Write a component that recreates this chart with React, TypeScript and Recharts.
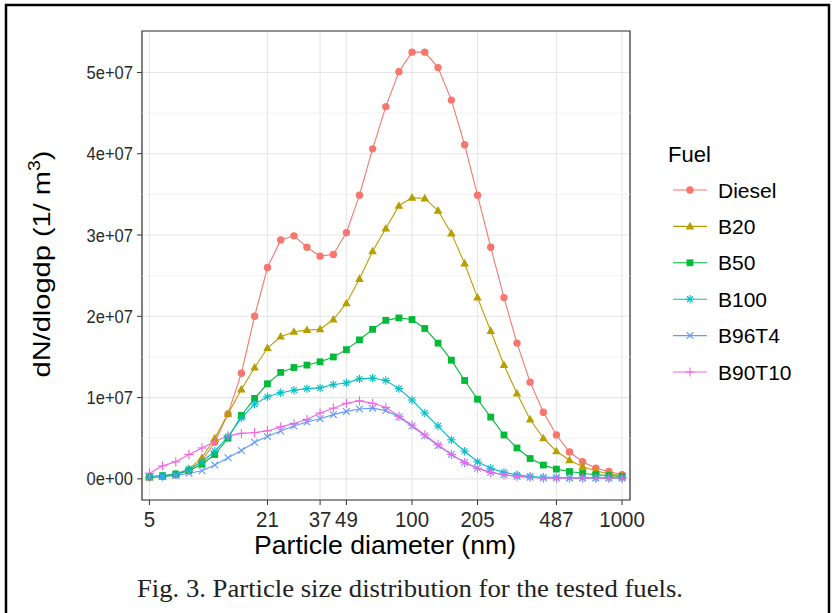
// @ts-nocheck
import React from 'react';
import { LineChart, Line, XAxis, YAxis, CartesianGrid, ReferenceLine, ReferenceArea } from 'recharts';

// particle diameters (nm), one per measured bin
const diameters = [5.62, 6.49, 7.5, 8.66, 10, 11.5, 13.3, 15.4, 17.8, 20.5, 23.7, 27.4, 31.6, 36.5, 42.2, 48.7, 56.2, 64.9, 75, 86.6, 100, 115, 133, 154, 178, 205, 237, 274, 316, 365, 422, 487, 562, 649, 750, 866, 1000];

// dN/dlogdp in units of 1e7 (1/m3)
const diesel = [0.02, 0.03, 0.05, 0.1, 0.22, 0.45, 0.8, 1.3, 2.0, 2.6, 2.94, 2.99, 2.85, 2.74, 2.76, 3.03, 3.49, 4.06, 4.58, 5.01, 5.25, 5.25, 5.06, 4.66, 4.11, 3.49, 2.85, 2.23, 1.67, 1.19, 0.82, 0.54, 0.33, 0.21, 0.13, 0.09, 0.05];
const b20 = [0.02, 0.03, 0.06, 0.12, 0.26, 0.5, 0.8, 1.1, 1.37, 1.61, 1.75, 1.81, 1.83, 1.84, 1.96, 2.16, 2.46, 2.8, 3.08, 3.36, 3.46, 3.45, 3.3, 3.02, 2.65, 2.23, 1.82, 1.4, 1.05, 0.73, 0.5, 0.34, 0.23, 0.15, 0.1, 0.06, 0.04];
const b50 = [0.03, 0.04, 0.06, 0.1, 0.18, 0.3, 0.5, 0.78, 0.99, 1.17, 1.31, 1.37, 1.4, 1.44, 1.5, 1.59, 1.71, 1.84, 1.95, 1.98, 1.96, 1.85, 1.67, 1.46, 1.21, 0.98, 0.76, 0.54, 0.38, 0.25, 0.17, 0.12, 0.09, 0.07, 0.05, 0.04, 0.03];
const b100 = [0.02, 0.03, 0.05, 0.12, 0.21, 0.34, 0.52, 0.75, 0.92, 1.01, 1.06, 1.09, 1.11, 1.12, 1.16, 1.18, 1.23, 1.24, 1.21, 1.11, 0.97, 0.81, 0.65, 0.48, 0.34, 0.21, 0.13, 0.08, 0.05, 0.03, 0.02, 0.02, 0.01, 0.01, 0.01, 0.01, 0.01];
const b96t4 = [0.02, 0.03, 0.04, 0.07, 0.1, 0.17, 0.26, 0.35, 0.45, 0.52, 0.59, 0.65, 0.7, 0.74, 0.79, 0.83, 0.86, 0.87, 0.84, 0.76, 0.65, 0.53, 0.41, 0.3, 0.2, 0.13, 0.08, 0.05, 0.03, 0.02, 0.01, 0.01, 0.01, 0.01, 0.01, 0.01, 0.01];
const b90t10 = [0.07, 0.16, 0.21, 0.3, 0.38, 0.46, 0.53, 0.56, 0.57, 0.59, 0.64, 0.68, 0.73, 0.81, 0.87, 0.93, 0.96, 0.93, 0.88, 0.77, 0.66, 0.54, 0.42, 0.3, 0.2, 0.13, 0.08, 0.05, 0.03, 0.02, 0.01, 0.01, 0.01, 0.01, 0.01, 0.01, 0.01];

const xTicks = [5.62, 20.5, 36.5, 48.7, 100, 205, 487, 1000];
const xTickLabels = ['5', '21', '37', '49', '100', '205', '487', '1000'];
const yTicks = [0, 1e7, 2e7, 3e7, 4e7, 5e7];
const yMinor = [0.5e7, 1.5e7, 2.5e7, 3.5e7, 4.5e7];

const X_DOMAIN = [5.18, 1091];
const Y_DOMAIN = [-2.6e6, 5.51e7];

const series = [
  { key: 'Diesel', values: diesel, color: '#F8766D', shape: 'circle' },
  { key: 'B20', values: b20, color: '#B79F00', shape: 'triangle' },
  { key: 'B50', values: b50, color: '#00BA38', shape: 'square' },
  { key: 'B100', values: b100, color: '#00BFC4', shape: 'asterisk' },
  { key: 'B96T4', values: b96t4, color: '#619CFF', shape: 'cross' },
  { key: 'B90T10', values: b90t10, color: '#F564E3', shape: 'plus' },
];

const data = diameters.map((d, i) => {
  const row: any = { d };
  series.forEach((s) => { row[s.key] = s.values[i] * 1e7; });
  return row;
});

function Marker({ cx, cy, shape, color }) {
  if (cx == null || cy == null) return null;
  const r = 4.2;
  switch (shape) {
    case 'circle':
      return <circle cx={cx} cy={cy} r={3.7} fill={color} />;
    case 'triangle':
      return <polygon points={`${cx},${cy - 4.6} ${cx - 4.3},${cy + 3} ${cx + 4.3},${cy + 3}`} fill={color} />;
    case 'square':
      return <rect x={cx - 3.4} y={cy - 3.4} width={6.8} height={6.8} fill={color} />;
    case 'asterisk':
      return (
        <g stroke={color} strokeWidth={1.1}>
          <line x1={cx - r} y1={cy} x2={cx + r} y2={cy} />
          <line x1={cx} y1={cy - r} x2={cx} y2={cy + r} />
          <line x1={cx - r * 0.7} y1={cy - r * 0.7} x2={cx + r * 0.7} y2={cy + r * 0.7} />
          <line x1={cx - r * 0.7} y1={cy + r * 0.7} x2={cx + r * 0.7} y2={cy - r * 0.7} />
        </g>
      );
    case 'cross':
      return (
        <g stroke={color} strokeWidth={1.1}>
          <line x1={cx - r * 0.8} y1={cy - r * 0.8} x2={cx + r * 0.8} y2={cy + r * 0.8} />
          <line x1={cx - r * 0.8} y1={cy + r * 0.8} x2={cx + r * 0.8} y2={cy - r * 0.8} />
        </g>
      );
    default:
      return (
        <g stroke={color} strokeWidth={1.1}>
          <line x1={cx - r * 1.1} y1={cy} x2={cx + r * 1.1} y2={cy} />
          <line x1={cx} y1={cy - r * 1.1} x2={cx} y2={cy + r * 1.1} />
        </g>
      );
  }
}

const fmtY = (v) => (v === 0 ? '0e+00' : `${Math.round(v / 1e7)}e+07`);
const fmtX = (v) => xTickLabels[xTicks.indexOf(v)] ?? String(v);

const sans = '"Liberation Sans", Arial, sans-serif';

// the original figure's lettering is slightly condensed
function XTick({ x, y, payload }) {
  return (
    <g transform={`translate(${x},${y + 22}) scale(0.93,1)`}>
      <text textAnchor="middle" fontSize={22} fontFamily={sans} fill="#2a2a2a">{fmtX(payload.value)}</text>
    </g>
  );
}

function YTick({ x, y, payload }) {
  return (
    <g transform={`translate(${x},${y + 6.5}) scale(0.87,1)`}>
      <text textAnchor="end" fontSize={19} fontFamily={sans} fill="#2a2a2a">{fmtY(payload.value)}</text>
    </g>
  );
}

export default function App() {
  return (
    <div style={{ position: 'absolute', left: 0, top: 0, width: 833, height: 613, background: '#fff', overflow: 'hidden' }}>
      <LineChart width={833} height={613} data={data} margin={{ top: 31, right: 203, bottom: 0, left: 0 }}>
        <CartesianGrid stroke="#e6e6e6" strokeWidth={1.1} />
        {yMinor.map((v) => (
          <ReferenceLine key={v} y={v} stroke="#efefef" strokeWidth={0.8} />
        ))}
        <XAxis
          dataKey="d"
          type="number"
          scale="log"
          domain={X_DOMAIN}
          allowDataOverflow
          ticks={xTicks}
          height={113}
          axisLine={false}
          tickLine={{ stroke: '#333' }}
          tickSize={5}
          tickMargin={0}
          tick={<XTick />}
          interval={0}
        />
        <YAxis
          type="number"
          domain={Y_DOMAIN}
          allowDataOverflow
          ticks={yTicks}
          width={142}
          axisLine={false}
          tickLine={{ stroke: '#333' }}
          tickSize={5}
          tickMargin={4}
          tick={<YTick />}
          interval={0}
        />
        <ReferenceArea x1={X_DOMAIN[0]} x2={X_DOMAIN[1]} y1={Y_DOMAIN[0]} y2={Y_DOMAIN[1]} fill="none" stroke="#333" strokeWidth={1.2} />
        {series.map((s) => (
          <Line
            key={s.key}
            dataKey={s.key}
            stroke={s.color}
            strokeWidth={1.1}
            isAnimationActive={false}
            dot={(p) => <Marker key={`${s.key}-${p.index}`} cx={p.cx} cy={p.cy} shape={s.shape} color={s.color} />}
          />
        ))}
      </LineChart>

      <svg width={833} height={613} style={{ position: 'absolute', left: 0, top: 0, pointerEvents: 'none' }}>
        {/* outer frame */}
        <path d="M6,620 L6,5 L829,5 L829,620" fill="none" stroke="#000" strokeWidth={2.5} />

        {/* axis titles */}
        <text x={385} y={554} textAnchor="middle" fontSize={26} fontFamily={sans} fill="#000" textLength={262} lengthAdjust="spacingAndGlyphs">
          Particle diameter (nm)
        </text>
        <text transform="translate(50,264) rotate(-90)" textAnchor="middle" fontSize={24} fontFamily={sans} fill="#000" textLength={227} lengthAdjust="spacingAndGlyphs">
          dN/dlogdp (1/ m<tspan dy={-10} fontSize={16}>3</tspan><tspan dy={10}>)</tspan>
        </text>

        {/* legend */}
        <text x={668} y={162} fontSize={22} fontFamily={sans} fill="#000">Fuel</text>
        {series.map((s, i) => {
          const y = 190 + i * 36.4;
          return (
            <g key={s.key}>
              <line x1={673} y1={y} x2={707} y2={y} stroke={s.color} strokeWidth={1.1} />
              <Marker cx={690} cy={y} shape={s.shape} color={s.color} />
              <text x={718} y={y + 7.5} fontSize={21} fontFamily={sans} fill="#000">{s.key}</text>
            </g>
          );
        })}

        {/* caption */}
        <text x={410} y={597} textAnchor="middle" fontSize={26} fontFamily='"Liberation Serif", "Times New Roman", serif' fill="#222" textLength={546} lengthAdjust="spacingAndGlyphs">
          Fig. 3. Particle size distribution for the tested fuels.
        </text>
      </svg>
    </div>
  );
}
